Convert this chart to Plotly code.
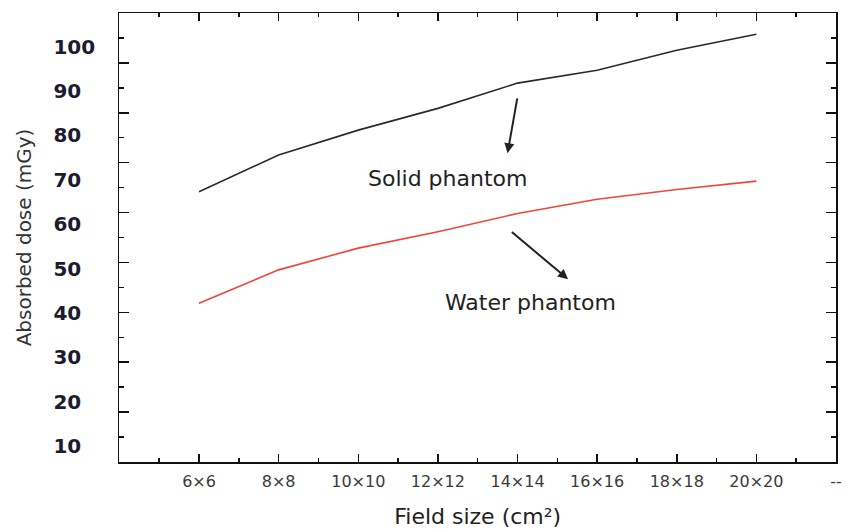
import plotly.graph_objects as go

# Field sizes (side length, cm) and their labels
field_size = [6, 8, 10, 12, 14, 16, 18, 20]
field_labels = ["6×6", "8×8", "10×10", "12×12", "14×14", "16×16", "18×18", "20×20"]

# Absorbed dose (mGy)
solid_phantom = [67.3, 75.6, 81.2, 86.1, 91.8, 94.7, 99.2, 102.8]
water_phantom = [42.2, 49.7, 54.6, 58.3, 62.4, 65.6, 67.8, 69.7]

y_labels = [10, 20, 30, 40, 50, 60, 70, 80, 90, 100]

FONT = "DejaVu Sans"

fig = go.Figure()
# empty trace so that the frame/tick axis (y) is drawn
fig.add_trace(go.Scatter(x=[], y=[], yaxis="y", showlegend=False, hoverinfo="skip"))
fig.add_trace(go.Scatter(x=field_size, y=solid_phantom, mode="lines",
                         line=dict(color="#2a2a2a", width=1.6),
                         yaxis="y2", showlegend=False, name="Solid phantom"))
fig.add_trace(go.Scatter(x=field_size, y=water_phantom, mode="lines",
                         line=dict(color="#f2443a", width=1.6),
                         yaxis="y2", showlegend=False, name="Water phantom"))

W, H = 846, 529
ml, mr, mt, mb = 40, 4, 13, 67
pw = W - ml - mr
frame_left = 120  # px of the left frame line

fig.update_layout(
    width=W, height=H,
    margin=dict(l=ml, r=mr, t=mt, b=mb),
    paper_bgcolor="white", plot_bgcolor="white",
    font=dict(family=FONT, color="#222"),
    xaxis=dict(
        domain=[(frame_left - ml) / pw, 1],
        range=[4, 22],
        tickmode="array",
        tickvals=field_size + [22],
        ticktext=field_labels + ["--"],
        tickfont=dict(family=FONT, size=16, color="#3a3a3a"),
        ticks="inside", ticklen=8, tickwidth=1.5, tickcolor="#111",
        minor=dict(tickvals=[5, 7, 9, 11, 13, 15, 17, 19, 21], ticks="inside",
                   ticklen=4, tickwidth=1.5, tickcolor="#111"),
        showline=True, linewidth=1.5, linecolor="#111", mirror="ticks",
        showgrid=False, zeroline=False,
        ticklabelstandoff=4,
        title=dict(text="Field size (cm²)", font=dict(family=FONT, size=22, color="#222"),
                   standoff=19),
        anchor="y",
    ),
    yaxis=dict(
        range=[0, 9], tickmode="linear", tick0=0, dtick=1,
        ticks="inside", ticklen=10, tickwidth=1.5, tickcolor="#111",
        minor=dict(dtick=0.5, ticks="inside", ticklen=5, tickwidth=1.5, tickcolor="#111"),
        showticklabels=False,
        showline=True, linewidth=1.5, linecolor="#111", mirror="ticks",
        showgrid=False, zeroline=False,
        title=dict(text="Absorbed dose (mGy)", font=dict(family=FONT, size=20, color="#333"),
                   standoff=81),
        anchor="x",
    ),
    yaxis2=dict(
        overlaying="y", side="right", anchor="free",
        position=(52.5 - ml) / pw,
        range=[6.39, 107.6],
        tickmode="array", tickvals=y_labels,
        ticks="", showline=False, showgrid=False, zeroline=False,
        tickfont=dict(family=FONT, size=20, color="#1c1c30", weight="bold"),
    ),
    annotations=[
        dict(x=12.25, y=70.4, xref="x", yref="y2", text="Solid phantom", showarrow=False,
             font=dict(family=FONT, size=22, color="#222")),
        dict(x=14.32, y=42.45, xref="x", yref="y2", text="Water phantom", showarrow=False,
             font=dict(family=FONT, size=22, color="#222")),
        dict(x=13.75, y=76.0, xref="x", yref="y2", ax=14.0, ay=88.7, axref="x", ayref="y2",
             text="", showarrow=True, arrowhead=2, arrowsize=1, arrowwidth=2, arrowcolor="#222"),
        dict(x=15.27, y=47.6, xref="x", yref="y2", ax=13.82, ay=58.5, axref="x", ayref="y2",
             text="", showarrow=True, arrowhead=2, arrowsize=1, arrowwidth=2, arrowcolor="#222"),
    ],
)

fig.write_html("out.html",
               config={"displayModeBar": False, "staticPlot": True},
               post_script="document.body.style.margin='0px';document.body.style.overflow='hidden';")
